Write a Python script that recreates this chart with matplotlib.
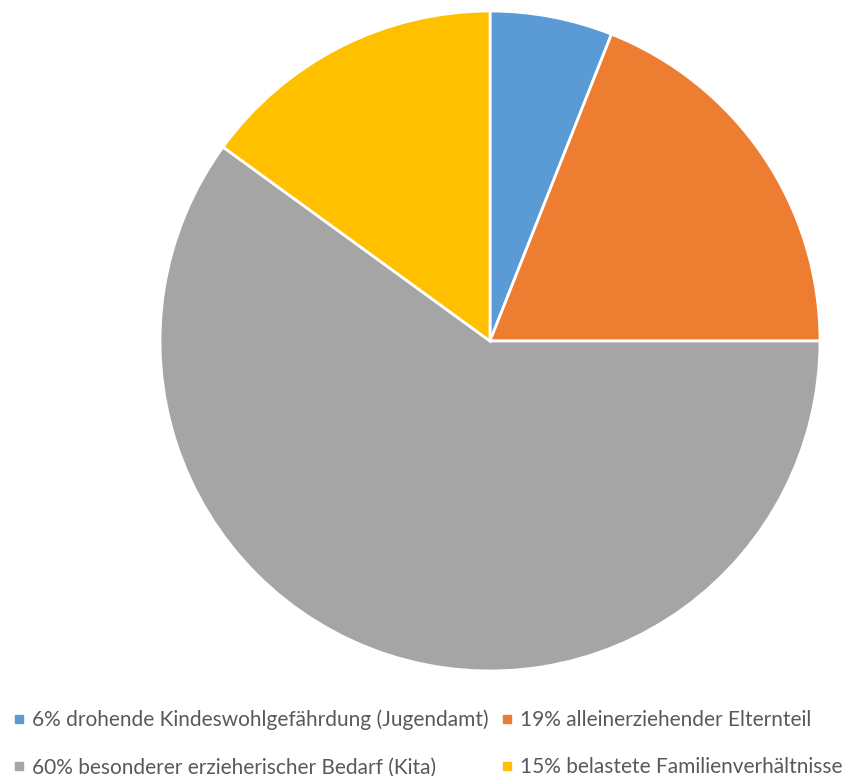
import matplotlib.pyplot as plt
from matplotlib.lines import Line2D

labels = ["6% drohende Kindeswohlgefährdung (Jugendamt)",
          "19% alleinerziehender Elternteil",
          "60% besonderer erzieherischer Bedarf (Kita)",
          "15% belastete Familienverhältnisse"]
values = [6, 19, 60, 15]
colors = ["#5B9BD5", "#ED7D31", "#A5A5A5", "#FFC000"]

plt.rcParams['font.family'] = ['Lato', 'DejaVu Sans']

fig = plt.figure(figsize=(8.46, 7.76), dpi=100)
ax = fig.add_axes([160 / 846, 105 / 776, 660 / 846, 660 / 776])
ax.pie(values, colors=colors, startangle=90, counterclock=False,
       wedgeprops=dict(edgecolor='white', linewidth=2))
ax.set_xlim(-1.0, 1.0)
ax.set_ylim(-1.0, 1.0)
ax.set_aspect('equal')

handles = [Line2D([], [], marker='s', linestyle='none', markersize=6,
                  markerfacecolor=c, markeredgecolor=c) for c in colors]
# ncol=2 fills column by column -> reorder for row layout
order = [0, 2, 1, 3]
fig.legend([handles[i] for i in order], [labels[i] for i in order],
           ncol=2, loc='lower left', bbox_to_anchor=(0.0, -0.018),
           frameon=False, fontsize=15, labelcolor='#595959',
           handlelength=0.6, handletextpad=0.35, columnspacing=0.55,
           labelspacing=1.3, borderaxespad=0.2)

fig.savefig("out.png", dpi=100)
